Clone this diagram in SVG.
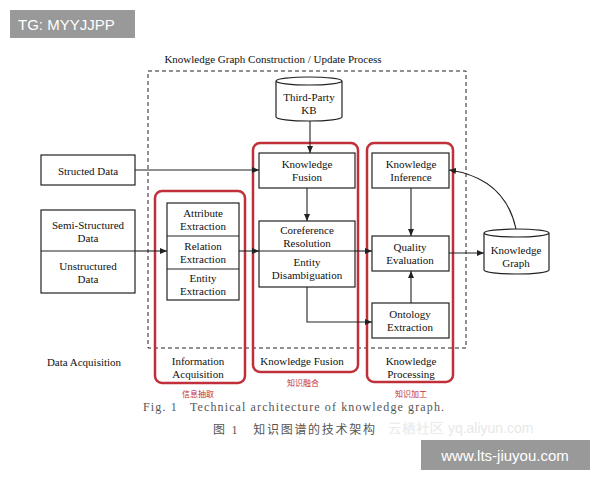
<svg xmlns="http://www.w3.org/2000/svg" width="600" height="480" viewBox="0 0 600 480">
<style>
.b{fill:#fff;stroke:#222;stroke-width:1.2}
.r{fill:none;stroke:#c0303a;stroke-width:2.5}
.t{font-family:"Liberation Serif",serif;font-size:11px;fill:#111;text-anchor:middle}
.c{stroke:#222;stroke-width:1.1;fill:none}
.zh{font-family:"Liberation Serif","Noto Sans CJK SC",serif;text-anchor:middle}
</style>
<defs><marker id="a" markerWidth="8" markerHeight="8" refX="7" refY="4" orient="auto" markerUnits="userSpaceOnUse"><path d="M0,1 L7,4 L0,7 Z" fill="#222"/></marker></defs>
<rect width="600" height="480" fill="#fff"/>
<rect x="148" y="71" width="318" height="277" fill="none" stroke="#222" stroke-dasharray="4,3"/>
<text class="t" x="273" y="63">Knowledge Graph Construction / Update Process</text>
<g id="info-acq"><rect class="r" x="155" y="191" width="90" height="192" rx="7"/><text class="t" x="198" y="365">Information</text><text class="t" x="198" y="378">Acquisition</text><text class="zh" x="198" y="397" font-size="8" fill="#c0303a">信息抽取</text></g>
<g id="kfusion-grp"><rect class="r" x="253" y="143" width="105" height="229" rx="7"/><text class="t" x="302" y="365">Knowledge Fusion</text><text class="zh" x="303" y="386" font-size="8" fill="#c0303a">知识融合</text></g>
<g id="kproc-grp"><rect class="r" x="367" y="143" width="86" height="239" rx="7"/><text class="t" x="411" y="365">Knowledge</text><text class="t" x="411" y="378">Processing</text><text class="zh" x="411" y="397" font-size="8" fill="#c0303a">知识加工</text></g>
<g id="structed"><rect class="b" x="41" y="155" width="94" height="30"/><text class="t" x="88" y="175">Structed Data</text></g>
<g id="semi"><rect class="b" x="41" y="210" width="94" height="83"/><line class="c" x1="41" y1="251" x2="135" y2="251"/><text class="t" x="88" y="229">Semi-Structured</text><text class="t" x="88" y="242">Data</text><text class="t" x="88" y="270">Unstructured</text><text class="t" x="88" y="283">Data</text></g>
<g id="extract"><rect class="b" x="167" y="203" width="72" height="97"/><line class="c" x1="167" y1="236" x2="239" y2="236"/><line class="c" x1="167" y1="269" x2="239" y2="269"/><text class="t" x="203" y="217">Attribute</text><text class="t" x="203" y="230">Extraction</text><text class="t" x="203" y="250">Relation</text><text class="t" x="203" y="263">Extraction</text><text class="t" x="203" y="282">Entity</text><text class="t" x="203" y="295">Extraction</text></g>
<g id="kb"><path class="b" d="M276,81 L276,117 A33,4 0 0 0 342,117 L342,81 A33,4 0 0 0 276,81 A33,4 0 0 0 342,81"/><text class="t" x="309" y="101">Third-Party</text><text class="t" x="309" y="114">KB</text></g>
<g id="kfusion"><rect class="b" x="259" y="153" width="96" height="35"/><text class="t" x="307" y="168">Knowledge</text><text class="t" x="307" y="181">Fusion</text></g>
<g id="coref"><rect class="b" x="259" y="221" width="96" height="66"/><line class="c" x1="259" y1="251" x2="355" y2="251"/><text class="t" x="307" y="234">Coreference</text><text class="t" x="307" y="247">Resolution</text><text class="t" x="307" y="266">Entity</text><text class="t" x="307" y="279">Disambiguation</text></g>
<g id="inference"><rect class="b" x="372" y="153" width="77" height="35"/><text class="t" x="411" y="168">Knowledge</text><text class="t" x="411" y="181">Inference</text></g>
<g id="quality"><rect class="b" x="372" y="236" width="77" height="35"/><text class="t" x="410" y="251">Quality</text><text class="t" x="410" y="264">Evaluation</text></g>
<g id="ontology"><rect class="b" x="372" y="303" width="77" height="35"/><text class="t" x="410" y="318">Ontology</text><text class="t" x="410" y="331">Extraction</text></g>
<g id="kg"><path class="b" d="M484,233 L484,270 A32.5,4 0 0 0 549,270 L549,233 A32.5,4 0 0 0 484,233 A32.5,4 0 0 0 549,233"/><text class="t" x="516" y="254">Knowledge</text><text class="t" x="516" y="267">Graph</text></g>
<g id="connectors" marker-end="url(#a)">
<path class="c" d="M135,170 H259"/>
<path class="c" d="M135,251 H167"/>
<path class="c" d="M239,251 H259"/>
<path class="c" d="M310,121 V153"/>
<path class="c" d="M307,188 V221"/>
<path class="c" d="M355,251 H372"/>
<path class="c" d="M307,287 V322 H372"/>
<path class="c" d="M411,188 V236"/>
<path class="c" d="M411,303 V271"/>
<path class="c" d="M449,253 H484"/>
<path class="c" d="M516,229 Q505,178 449,170"/>
</g>
<text class="t" x="84" y="366">Data Acquisition</text>
<text xml:space="preserve" x="143" y="411" font-family="Liberation Serif,serif" font-size="12" fill="#555" textLength="301">Fig. 1   Technical architecture of knowledge graph.</text>
<text xml:space="preserve" x="213" y="434" font-family="Liberation Serif,Noto Sans CJK SC,serif" font-size="12" fill="#555" textLength="162">图 1   知识图谱的技术架构</text>
<text x="388" y="433" font-family="Liberation Sans,sans-serif" font-size="14" fill="#e8e8e8">云栖社区 yq.aliyun.com</text>
<rect x="10" y="10" width="125" height="28" fill="#999"/>
<text x="18" y="30" font-family="Liberation Sans,sans-serif" font-size="15" fill="#fff">TG: MYYJJPP</text>
<rect x="421" y="440" width="169" height="30" fill="#999"/>
<text x="505" y="461" font-family="Liberation Sans,sans-serif" font-size="15" fill="#fff" text-anchor="middle">www.lts-jiuyou.com</text>
</svg>
